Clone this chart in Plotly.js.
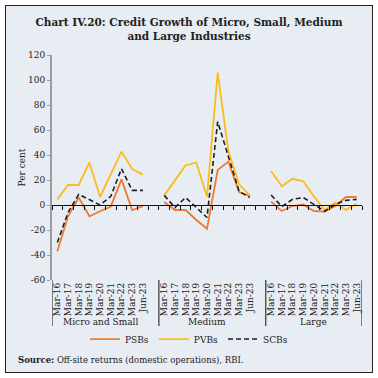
<!DOCTYPE html>
<html>
<head>
<meta charset="utf-8">
<script src="https://cdn.plot.ly/plotly-3.0.1.min.js"></script>
<style>
  html, body { margin:0; padding:0; background:#ffffff; }
  #frame { position:absolute; left:5px; top:5px; width:366px; height:366px; border:1px solid #222; background:#e8edf4; }
  #chart { position:absolute; left:0; top:0; width:378px; height:378px; }
</style>
</head>
<body>
<div id="frame"></div>
<div id="chart"></div>
<script>
// ---- Data ----
const categories = ['Mar-16','Mar-17','Mar-18','Mar-19','Mar-20','Mar-21','Mar-22','Mar-23','Jun-23'];
const groups = ['Micro and Small','Medium','Large'];

const psbsMicro  = [-37, -9, 6, -9, -5, -1.3, 20.5, -4, -1];
const pvbsMicro  = [4.5, 16, 16, 34, 6.4, 24, 42.7, 28.8, 24.3];
const scbsMicro  = [-30, -6, 8.5, 4.5, 0, 7, 29, 11.7, 11.7];

const psbsMedium = [2.4, -4, -4, -12, -19, 28, 34.7, 10.4, 7.2];
const pvbsMedium = [7.7, 20, 31.7, 34, 6.7, 106, 43, 16.5, 7.7];
const scbsMedium = [7.7, -2, 6, -2, -10, 66.7, 39, 11, 6];

const psbsLarge  = [2.7, -4.8, -0.8, 0.5, -4.8, -5.3, -0.8, 6.4, 6.4];
const pvbsLarge  = [27, 15, 21, 19, 7, -4, 2, -4, 1];
const scbsLarge  = [8, -1.3, 4.5, 6, 0.5, -5, 0.5, 3.7, 4.5];

const seriesNames = ['PSBs','PVBs','SCBs'];
const yTickVals = [-60, -40, -20, 0, 20, 40, 60, 80, 100, 120];
const yTickText = ['-60', '-40', '-20', '0', '20', '40', '60', '80', '100', '120'];

// ---- Build positions (each group of categories followed by one empty slot) ----
const slot = categories.length + 1;
const xs = [], tickText = [];
groups.forEach((g, gi) => categories.forEach((c, ci) => { xs.push(gi*slot + ci); tickText.push(c); }));
const xMin = -0.5, xMax = (groups.length-1)*slot + categories.length - 0.5;

function joined(arrs) {
  const x = [], y = [];
  arrs.forEach((a, gi) => {
    a.forEach((v, ci) => { x.push(gi*slot + ci); y.push(v); });
    if (gi < arrs.length-1) { x.push(gi*slot + categories.length); y.push(null); }
  });
  return {x, y};
}
const psbs = joined([psbsMicro, psbsMedium, psbsLarge]);
const pvbs = joined([pvbsMicro, pvbsMedium, pvbsLarge]);
const scbs = joined([scbsMicro, scbsMedium, scbsLarge]);

const yMin = -60, yMax = 120;
const boundaries = [];
for (let b = xMin; b <= xMax + 1e-9; b += 1) boundaries.push(b);

const serif = 'DejaVu Serif, Liberation Serif, serif';

const traces = [
  {x: psbs.x, y: psbs.y, name: seriesNames[0], type:'scatter', mode:'lines', connectgaps:false,
   line:{color:'#ee7b34', width:1.8}},
  {x: pvbs.x, y: pvbs.y, name: seriesNames[1], type:'scatter', mode:'lines', connectgaps:false,
   line:{color:'#fbbc1c', width:1.8}},
  {x: scbs.x, y: scbs.y, name: seriesNames[2], type:'scatter', mode:'lines', connectgaps:false,
   line:{color:'#1e1e1e', width:1.6, dash:'5px,3px'}},
  {x: [], y: [], xaxis:'x2', showlegend:false, hoverinfo:'skip', type:'scatter', mode:'lines'}
];

const plotH = 225;
const groupSepY = -46/plotH;
const shapes = [];
groups.forEach((g, gi) => {
  shapes.push({type:'line', xref:'x', yref:'paper', x0: gi*slot - 0.5, x1: gi*slot - 0.5, y0:0, y1:groupSepY,
               line:{color:'#111', width:1}});
});
shapes.push({type:'line', xref:'x', yref:'paper', x0:xMax, x1:xMax, y0:0, y1:groupSepY, line:{color:'#111', width:1}});

const annotations = groups.map((g, gi) => ({
  text: g, xref:'x', yref:'paper', x: gi*slot + (categories.length-1)/2, y: -42/plotH,
  showarrow:false, xanchor:'center', yanchor:'middle', font:{family:serif, size:9, color:'#222'}
}));
annotations.push({
  text:'<b>Source:</b> Off-site returns (domestic operations), RBI.', xref:'paper', yref:'paper',
  x: -36/310, y: -80/plotH, xanchor:'left', yanchor:'middle', showarrow:false,
  font:{family:serif, size:8.5, color:'#222'}
});

const layout = {
  width:378, height:378,
  margin:{l:52, r:16, t:55, b:98},
  paper_bgcolor:'rgba(0,0,0,0)', plot_bgcolor:'rgba(0,0,0,0)',
  title:{text:'<b>Chart IV.20: Credit Growth of Micro, Small, Medium<br>and Large Industries</b>',
         font:{family:serif, size:10.5, color:'#222'}, xref:'container', x:0.5, xanchor:'center',
         yref:'container', y:0.93, yanchor:'top'},
  xaxis:{range:[xMin, xMax], tickvals: xs, ticktext: tickText, tickangle:-90, ticks:'', showline:false,
         showgrid:false, zeroline:false, tickfont:{family:serif, size:9, color:'#222'}},
  xaxis2:{overlaying:'x', anchor:'free', position:(0 - yMin)/(yMax - yMin), range:[xMin, xMax],
          showline:true, linecolor:'#111', linewidth:1, ticks:'outside', ticklen:4, tickcolor:'#111',
          tickwidth:1, tickvals: boundaries, showticklabels:false, showgrid:false, zeroline:false},
  yaxis:{range:[yMin, yMax], tickvals:yTickVals, ticktext:yTickText, showline:true, linecolor:'#9a9ca0', linewidth:2,
         ticks:'outside', ticklen:3, tickcolor:'#9a9ca0', showgrid:false, zeroline:false,
         tickfont:{family:serif, size:9, color:'#222'},
         title:{text:'Per cent', font:{family:serif, size:9, color:'#222'}, standoff:1}},
  legend:{orientation:'h', xref:'container', yref:'container', x:0.5, xanchor:'center', y:0.103, yanchor:'middle',
          font:{family:serif, size:9, color:'#222'}, bgcolor:'rgba(0,0,0,0)'},
  shapes: shapes,
  annotations: annotations,
  showlegend:true
};

Plotly.newPlot('chart', traces, layout, {displayModeBar:false, staticPlot:true});
</script>
</body>
</html>
